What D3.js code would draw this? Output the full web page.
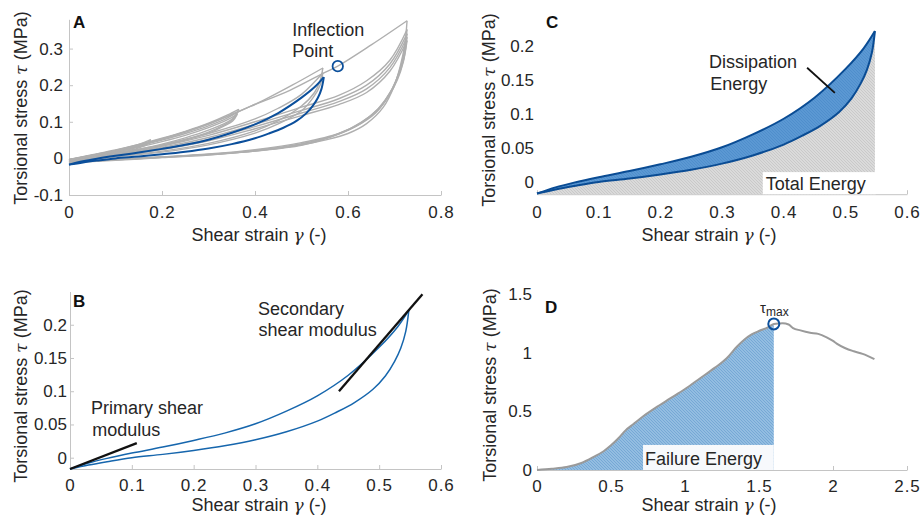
<!DOCTYPE html>
<html><head><meta charset="utf-8">
<script src="https://cdn.jsdelivr.net/npm/d3@7"></script>
<style>body{margin:0;background:#fff}text{font-family:"Liberation Sans",Arial,Helvetica,sans-serif}</style>
</head><body><script>
// ---------------- DATA ----------------
// blue loop (loading = upper branch, unloading = lower branch), [shear strain, stress MPa]
const blueLoading = [[0,-0.017],[0.03,-0.008],[0.06,-0.001],[0.1,0.007],[0.15,0.016],[0.2,0.026],[0.25,0.037],[0.3,0.051],[0.35,0.070],[0.4,0.093],[0.45,0.124],[0.5,0.166],[0.53,0.197],[0.548,0.222]];
const blueUnloading = [[0.548,0.222],[0.543,0.19],[0.535,0.165],[0.525,0.145],[0.51,0.123],[0.49,0.103],[0.46,0.083],[0.43,0.068],[0.4,0.055],[0.35,0.039],[0.3,0.027],[0.25,0.018],[0.2,0.011],[0.15,0.005],[0.1,0.0],[0.06,-0.006],[0.03,-0.011],[0,-0.017]];
// panel A grey cycles
const aLoop018a = [[0,-0.004],[0.05,0.009],[0.1,0.022],[0.15,0.038],[0.176,0.051],[0.166,0.041],[0.14,0.029],[0.1,0.016],[0.05,0.004],[0,-0.008]];
const aLoop018b = [[0,-0.006],[0.05,0.006],[0.1,0.018],[0.15,0.033],[0.175,0.046],[0.165,0.036],[0.14,0.025],[0.1,0.012],[0.05,0.001],[0,-0.009]];
const aLoop036a = [[0,-0.003],[0.05,0.01],[0.1,0.023],[0.15,0.038],[0.2,0.055],[0.25,0.074],[0.3,0.096],[0.34,0.118],[0.365,0.134],[0.356,0.113],[0.34,0.099],[0.3,0.077],[0.25,0.056],[0.2,0.039],[0.15,0.025],[0.1,0.013],[0.05,0.002],[0,-0.008]];
const aLoop036b = [[0,-0.004],[0.05,0.008],[0.1,0.02],[0.15,0.034],[0.2,0.05],[0.25,0.068],[0.3,0.089],[0.34,0.11],[0.363,0.127],[0.353,0.107],[0.336,0.093],[0.3,0.072],[0.25,0.052],[0.2,0.036],[0.15,0.023],[0.1,0.011],[0.05,0.001],[0,-0.009]];
const aLoop036c = [[0,-0.005],[0.05,0.007],[0.1,0.018],[0.15,0.031],[0.2,0.046],[0.25,0.063],[0.3,0.084],[0.34,0.105],[0.362,0.121],[0.352,0.102],[0.334,0.089],[0.3,0.069],[0.25,0.05],[0.2,0.034],[0.15,0.021],[0.1,0.01],[0.05,0],[0,-0.01]];
const aLoop055a = [[0,-0.004],[0.1,0.021],[0.2,0.053],[0.3,0.094],[0.365,0.128],[0.42,0.16],[0.48,0.2],[0.546,0.247],[0.54,0.212],[0.528,0.18],[0.5,0.143],[0.45,0.103],[0.4,0.075],[0.3,0.041],[0.2,0.02],[0.1,0.006],[0,-0.01]];
const aLoop055b = [[0,-0.006],[0.1,0.015],[0.2,0.037],[0.3,0.068],[0.4,0.108],[0.45,0.137],[0.5,0.175],[0.546,0.234],[0.54,0.2],[0.525,0.166],[0.5,0.13],[0.45,0.094],[0.4,0.069],[0.3,0.037],[0.2,0.017],[0.1,0.004],[0,-0.012]];
const aLoop073a = [[0,-0.003],[0.1,0.021],[0.2,0.053],[0.3,0.094],[0.39,0.142],[0.475,0.186],[0.546,0.232],[0.578,0.252],[0.65,0.31],[0.727,0.376],[0.722,0.31],[0.712,0.25],[0.7,0.2],[0.676,0.14],[0.64,0.095],[0.6,0.068],[0.55,0.05],[0.5,0.037],[0.4,0.02],[0.3,0.011],[0.2,0.004],[0.1,-0.003],[0,-0.01]];
const aLoop073b = [[0,-0.005],[0.1,0.013],[0.2,0.034],[0.3,0.063],[0.4,0.1],[0.5,0.14],[0.58,0.172],[0.64,0.212],[0.69,0.268],[0.727,0.352],[0.721,0.29],[0.71,0.236],[0.695,0.19],[0.67,0.142],[0.63,0.1],[0.58,0.068],[0.5,0.043],[0.4,0.024],[0.3,0.012],[0.2,0.004],[0.1,-0.003],[0,-0.01]];
const aLoop073c = [[0,-0.006],[0.1,0.011],[0.2,0.03],[0.3,0.057],[0.4,0.093],[0.5,0.131],[0.58,0.163],[0.64,0.2],[0.69,0.258],[0.727,0.341],[0.72,0.28],[0.708,0.228],[0.692,0.183],[0.665,0.136],[0.625,0.095],[0.57,0.063],[0.5,0.04],[0.4,0.022],[0.3,0.011],[0.2,0.003],[0.1,-0.004],[0,-0.011]];
const aLoop073d = [[0,-0.007],[0.1,0.009],[0.2,0.027],[0.3,0.052],[0.4,0.087],[0.5,0.124],[0.58,0.155],[0.64,0.19],[0.69,0.248],[0.727,0.331],[0.72,0.272],[0.707,0.221],[0.69,0.177],[0.662,0.13],[0.62,0.09],[0.565,0.06],[0.5,0.038],[0.4,0.021],[0.3,0.01],[0.2,0.003],[0.1,-0.004],[0,-0.011]];
const aLoop073e = [[0,-0.008],[0.1,0.007],[0.2,0.024],[0.3,0.048],[0.4,0.081],[0.5,0.117],[0.58,0.147],[0.64,0.18],[0.69,0.238],[0.727,0.322],[0.719,0.264],[0.706,0.214],[0.688,0.171],[0.66,0.125],[0.615,0.086],[0.56,0.057],[0.5,0.036],[0.4,0.02],[0.3,0.009],[0.2,0.002],[0.1,-0.005],[0,-0.012]];
const panelALoops = [aLoop018a,aLoop018b,aLoop036a,aLoop036b,aLoop036c,aLoop055a,aLoop055b,aLoop073a,aLoop073b,aLoop073c,aLoop073d,aLoop073e];
const inflectionPoint = [0.578,0.252];
// panel B modulus tangents
const primaryModulus = [[0,-0.017],[0.108,0.022]];
const secondaryModulus = [[0.435,0.1],[0.57,0.246]];
// panel D failure curve
const failureCurve = [[0,0],[0.1,0.01],[0.2,0.025],[0.3,0.06],[0.38,0.11],[0.45,0.16],[0.5,0.21],[0.55,0.27],[0.6,0.34],[0.65,0.39],[0.72,0.46],[0.8,0.53],[0.9,0.61],[1.0,0.69],[1.1,0.78],[1.2,0.87],[1.28,0.95],[1.35,1.05],[1.4,1.11],[1.45,1.155],[1.5,1.185],[1.56,1.215],[1.6,1.245],[1.66,1.25],[1.7,1.24],[1.73,1.21],[1.78,1.19],[1.845,1.17],[1.9,1.16],[1.957,1.13],[2.0,1.1],[2.025,1.077],[2.08,1.04],[2.14,1.012],[2.2,0.99],[2.28,0.945]];
const tauMax = [1.6,1.245];
// ticks
const ticksA_x = [0,0.2,0.4,0.6,0.8], ticksA_y = [-0.1,0,0.1,0.2,0.3];
const ticksB_x = [0,0.1,0.2,0.3,0.4,0.5,0.6], ticksB_y = [0,0.05,0.1,0.15,0.2];
const ticksC_x = [0,0.1,0.2,0.3,0.4,0.5,0.6], ticksC_y = [0,0.05,0.1,0.15,0.2];
const ticksD_x = [0,0.5,1,1.5,2,2.5], ticksD_y = [0,0.5,1,1.5];

// ---------------- DRAW ----------------
const svg = d3.select("body").append("svg").attr("width",922).attr("height",523);
const defs = svg.append("defs");
function hatch(id,bg,line,s){
  const p = defs.append("pattern").attr("id",id).attr("patternUnits","userSpaceOnUse").attr("width",s).attr("height",s);
  p.append("rect").attr("width",s).attr("height",s).attr("fill",bg);
  p.append("path").attr("d",`M0,0L${s},${s}M${-1},${s-1}L1,${s+1}M${s-1},-1L${s+1},1`).attr("stroke",line).attr("stroke-width",0.7);
}
hatch("hGrey","#dadada","#c2c2c2",3);
hatch("hBlue","#5b98d3","#4b8ac9",3);
hatch("hLightBlue","#93bde1","#6a9fd0",3);

const TXT = "#262626", AX = "#c4c4c4";
function panel(c){
  const x = d3.scaleLinear().domain(c.xDomain).range(c.xRange);
  const y = d3.scaleLinear().domain(c.yDomain).range(c.yRange);
  const g = svg.append("g");
  const gx = g.append("g").attr("transform",`translate(0,${c.yRange[0]})`)
    .call(d3.axisBottom(x).tickValues(c.xTicks).tickFormat(d=>String(d)).tickSizeInner(-4).tickSizeOuter(0).tickPadding(c.xPad));
  const gy = g.append("g").attr("transform",`translate(${c.xRange[0]},0)`)
    .call(d3.axisLeft(y).tickValues(c.yTicks).tickFormat(d=>String(d)).tickSizeInner(-4).tickSizeOuter(0).tickPadding(c.yPad));
  [gx,gy].forEach(a=>{
    a.select(".domain").attr("stroke",AX);
    a.selectAll(".tick line").attr("stroke",AX);
    a.selectAll(".tick text").attr("fill",TXT).attr("font-size",17).attr("font-family",'"Liberation Sans",Arial,sans-serif');
  });
  gx.selectAll(".tick text").attr("letter-spacing","1px");
  if(c.hideY){ gy.select(".domain").remove(); gy.selectAll(".tick line").remove(); }
  const xt = g.append("text").attr("x",c.xTitle[0]).attr("y",c.xTitle[1]).attr("text-anchor","middle").attr("font-size",18).attr("fill",TXT);
  xt.append("tspan").text("Shear strain ");
  xt.append("tspan").attr("font-style","italic").attr("font-family","DejaVu Serif, serif").attr("font-size",17).text("γ");
  xt.append("tspan").text(" (-)");
  const yt = g.append("text").attr("transform",`translate(${c.yTitle[0]},${c.yTitle[1]}) rotate(-90)`).attr("text-anchor","middle").attr("font-size",18).attr("fill",TXT);
  yt.append("tspan").text("Torsional stress ");
  yt.append("tspan").attr("font-style","italic").attr("font-family","DejaVu Serif, serif").attr("font-size",17).text("τ");
  yt.append("tspan").text(" (MPa)");
  g.append("text").attr("x",c.letterPos[0]).attr("y",c.letterPos[1]).attr("font-size",17).attr("font-weight","bold").attr("fill","#111").text(c.letter);
  return {g,x,y};
}
function label(g,x,y,str,size){ return g.append("text").attr("x",x).attr("y",y).attr("font-size",size||18).attr("fill",TXT).text(str); }
function splitLoop(loop){
  let k = d3.maxIndex(loop,d=>d[0]);
  return [loop.slice(0,k+1), loop.slice(k)];
}

// ===== Panel A =====
{
  const {g,x,y} = panel({xDomain:[0,0.8],xRange:[69,441],yDomain:[-0.1,0.38],yRange:[195,19.3],xTicks:ticksA_x,yTicks:ticksA_y,xPad:11,yPad:6,
    xTitle:[259,241],yTitle:[27,108],letter:"A",letterPos:[73,28]});
  const line = d3.line().x(d=>x(d[0])).y(d=>y(d[1])).curve(d3.curveCatmullRom.alpha(0.5));
  panelALoops.forEach(loop=>{
    splitLoop(loop).forEach(seg=>g.append("path").attr("d",line(seg)).attr("fill","none").attr("stroke","#afafaf").attr("stroke-width",1.4));
  });
  [blueLoading,blueUnloading].forEach(seg=>g.append("path").attr("d",line(seg)).attr("fill","none").attr("stroke","#0b4f9b").attr("stroke-width",2));
  g.append("circle").attr("cx",x(inflectionPoint[0])).attr("cy",y(inflectionPoint[1])).attr("r",5.2).attr("fill","none").attr("stroke","#0b4f9b").attr("stroke-width",1.8);
  label(g,x(0.48),y(0.334),"Inflection");
  label(g,x(0.48),y(0.277),"Point");
}
// ===== Panel B =====
{
  const {g,x,y} = panel({xDomain:[0,0.6],xRange:[70,441],yDomain:[-0.017,0.25],yRange:[469,291.5],xTicks:ticksB_x,yTicks:ticksB_y,xPad:10,yPad:3,
    xTitle:[259,511],yTitle:[27,386],letter:"B",letterPos:[73,307]});
  const line = d3.line().x(d=>x(d[0])).y(d=>y(d[1])).curve(d3.curveCatmullRom.alpha(0.5));
  [blueLoading,blueUnloading].forEach(seg=>g.append("path").attr("d",line(seg)).attr("fill","none").attr("stroke","#1666ad").attr("stroke-width",1.5));
  const straight = d3.line().x(d=>x(d[0])).y(d=>y(d[1]));
  [primaryModulus,secondaryModulus].forEach(s=>g.append("path").attr("d",straight(s)).attr("stroke","#111").attr("stroke-width",2.3).attr("fill","none"));
  label(g,x(0.304),y(0.215),"Secondary");
  label(g,x(0.305),y(0.183),"shear modulus");
  label(g,x(0.034),y(0.065),"Primary shear");
  label(g,x(0.036),y(0.033),"modulus");
}
// ===== Panel C =====
{
  const {g,x,y} = panel({xDomain:[0,0.6],xRange:[537,907],yDomain:[-0.018,0.23],yRange:[194.2,25.6],xTicks:ticksC_x,yTicks:ticksC_y,xPad:12,yPad:3,
    xTitle:[709,241],yTitle:[495,110],letter:"C",letterPos:[546,28],hideY:true});
  const bottom = y.range()[0];
  const area = d3.area().x(d=>x(d[0])).y0(bottom).y1(d=>y(d[1])).curve(d3.curveCatmullRom.alpha(0.5));
  g.append("path").attr("d",area(blueLoading)).attr("fill","url(#hGrey)");
  const line = d3.line().x(d=>x(d[0])).y(d=>y(d[1])).curve(d3.curveCatmullRom.alpha(0.5));
  g.append("path").attr("d",line(blueLoading)+line(blueUnloading).replace(/^M/,"L")+"Z").attr("fill","url(#hBlue)");
  [blueLoading,blueUnloading].forEach(seg=>g.append("path").attr("d",line(seg)).attr("fill","none").attr("stroke","#0a4c94").attr("stroke-width",2));
  const t = label(g,x(0.371),y(-0.012),"Total Energy");
  const bb = t.node().getBBox();
  const peakX = d3.max(blueLoading,d=>d[0]);
  g.insert("rect",()=>t.node()).attr("x",bb.x-3).attr("y",bb.y-2).attr("width",x(peakX)+1-(bb.x-3)).attr("height",bottom-(bb.y-2)).attr("fill","#fff");
  label(g,x(0.279),y(0.168),"Dissipation");
  label(g,x(0.281),y(0.135),"Energy");
  g.append("line").attr("x1",x(0.438)).attr("y1",y(0.168)).attr("x2",x(0.483)).attr("y2",y(0.131)).attr("stroke","#111").attr("stroke-width",1.8);
}
// ===== Panel D =====
{
  const {g,x,y} = panel({xDomain:[0,2.5],xRange:[537,907],yDomain:[0,1.5],yRange:[470,294],xTicks:ticksD_x,yTicks:ticksD_y,xPad:10,yPad:5,
    xTitle:[709,511],yTitle:[496,385],letter:"D",letterPos:[545,313],hideY:true});
  const under = failureCurve.filter(d=>d[0]<=tauMax[0]);
  const area = d3.area().x(d=>x(d[0])).y0(y(0)).y1(d=>y(d[1])).curve(d3.curveMonotoneX);
  g.append("path").attr("d",area(under)).attr("fill","url(#hLightBlue)");
  const t = label(g,x(0.73),y(0.043),"Failure Energy");
  const bb = t.node().getBBox();
  g.insert("rect",()=>t.node()).attr("x",bb.x-2).attr("y",bb.y-4).attr("width",x(tauMax[0])-(bb.x-2)).attr("height",y(0)-(bb.y-4)).attr("fill","#f7f9fc");
  const line = d3.line().x(d=>x(d[0])).y(d=>y(d[1])).curve(d3.curveMonotoneX);
  g.append("path").attr("d",line(failureCurve)).attr("fill","none").attr("stroke","#9a9a9a").attr("stroke-width",2);
  g.append("circle").attr("cx",x(tauMax[0])).attr("cy",y(tauMax[1])).attr("r",5.5).attr("fill","none").attr("stroke","#0b4f9b").attr("stroke-width",2);
  const tm = g.append("text").attr("x",x(1.507)).attr("y",y(1.341)).attr("font-size",15).attr("fill",TXT);
  tm.append("tspan").text("τ");
  tm.append("tspan").attr("font-size",12).attr("dy",3).text("max");
}
</script></body></html>
